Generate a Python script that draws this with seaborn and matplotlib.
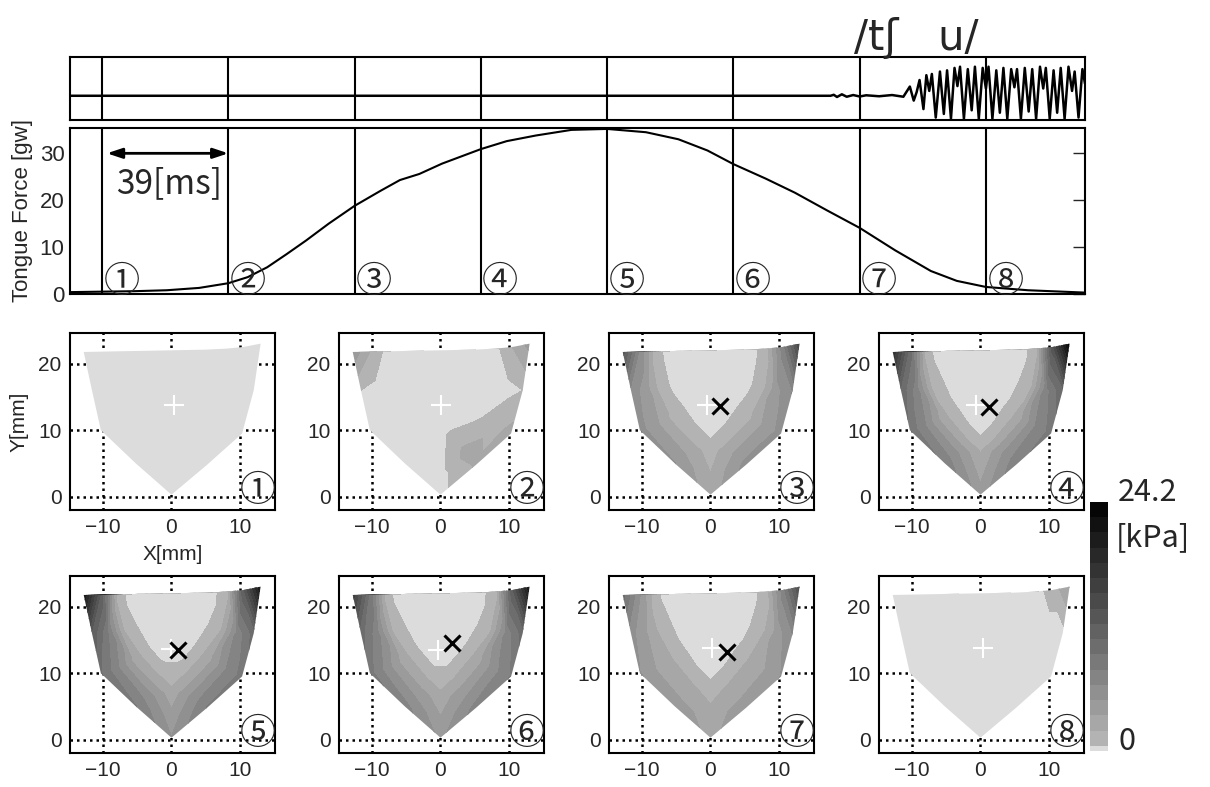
import numpy as np
import matplotlib
matplotlib.use("Agg")
import matplotlib.pyplot as plt
import matplotlib.tri as mtri
from matplotlib.colors import ListedColormap, BoundaryNorm
from matplotlib.patches import Polygon
import matplotlib.cm as cm
import seaborn as sns

sns.set_style("white")
plt.rcParams['font.family'] = ['Liberation Sans', 'Noto Sans CJK JP', 'DejaVu Sans']
CJK = ['Noto Sans CJK JP', 'DejaVu Sans']

# ---------------- data ----------------
line_times = [0, 39, 78, 117, 156, 195, 234, 273]   # ms, frame markers
marks = ['①', '②', '③', '④', '⑤', '⑥', '⑦', '⑧']

force_t = [-9.9, 0, 10, 20, 30, 39, 45, 51, 57, 63, 70, 78, 86, 92, 98, 105, 117,
           125, 134, 145, 156, 168, 178, 187, 195, 205, 214, 224, 234, 245, 256,
           264, 273, 286, 303.6]
force_v = [0.4, 0.5, 0.6, 0.8, 1.3, 2.3, 3.6, 5.7, 8.5, 11.4, 15.0, 18.8, 22.0, 24.3,
           25.6, 27.8, 30.9, 32.6, 33.8, 35.0, 35.2, 34.5, 33.0, 30.6, 27.7, 24.6,
           21.6, 17.8, 14.1, 9.3, 4.9, 2.8, 1.5, 0.8, 0.3]

wave_t = [-9.9, 225, 226, 227, 228.5, 230, 232, 234, 236, 240, 244, 247.5, 249.5,
          250.7, 251.6, 252.5, 253.7, 254.6, 255.5, 256.3, 257.5, 258.8, 260.0,
          261.0, 262.2, 263.3, 264.2, 265.0, 266.2, 267.4, 268.6, 269.6, 270.8,
          272.0, 273.0, 273.8, 275.0, 276.2, 277.3, 278.4, 279.6, 280.8, 281.8,
          282.6, 283.8, 285.0, 286.2, 287.3, 288.5, 289.7, 290.7, 291.5, 292.7,
          293.9, 295.0, 296.1, 297.3, 298.5, 299.6, 300.4, 301.6, 302.8, 303.6]
wave_v = [0, 0, 0.04, -0.05, 0.06, -0.04, 0.03, -0.03, 0.02, -0.02, 0.03, -0.04, 0.38,
          -0.2, 0.15, 0.65, -0.55, 0.85, 0.2, 0.9, -0.9, 1.0, -0.75,
          1.05, -0.95, 1.15, 0.4, 1.2, -0.95, 1.1, -0.6, 1.2, -0.95,
          1.15, 0.3, 1.2, -0.95, 1.05, -0.7, 1.15, -0.95, 1.1, 0.35,
          1.1, -0.95, 1.15, -0.65, 1.1, -0.95, 1.2, 0.3, 1.15, -0.95,
          1.05, -0.7, 1.15, -0.95, 1.2, 0.2, 1.0, -0.9, 1.1, 0.5]

# sensor node positions [mm]: outer edge, three inner rings, centre line
outer_x = [-12.8, -11.6, -10.3, -5.2, 0.0, 5.2, 10.3, 12.0, 13.0]
outer_y = [21.75, 16.0, 10.0, 5.0, 0.3, 4.8, 9.5, 16.0, 23.0]
ring1_x = [-10.3, -9.3, -8.0, -3.8, 0.0, 3.8, 8.0, 9.7, 10.5]
ring1_y = [21.8, 16.0, 10.5, 6.5, 3.5, 6.5, 10.5, 16.0, 22.5]
ring2_x = [-7.8, -7.0, -5.5, -2.2, 0.0, 2.2, 5.5, 7.3, 8.0]
ring2_y = [21.85, 16.5, 12.0, 8.5, 7.0, 8.5, 12.0, 16.5, 22.25]
ring3_x = [-5.0, -4.5, -3.0, -1.0, 0.0, 1.0, 3.0, 4.7, 5.0]
ring3_y = [21.9, 17.5, 14.0, 11.0, 10.0, 11.0, 14.0, 17.5, 22.1]
centre_x = [-2.5, 0.0, 2.5, 0.0, 0.0]
centre_y = [21.95, 22.0, 22.05, 18.5, 14.5]
centre_vals = [0, 0, 0, 0, 0]

# pressure [kPa] at the nodes for each of the 8 frames
outer_vals = [
    [0, 0, 0, 0, 0, 0, 0, 0, 0],
    [4.5, 0.5, 0, 0, 0, 2.2, 2.5, 0.5, 4.0],
    [13, 6, 5.5, 5, 2.5, 5.5, 5.5, 6.5, 15],
    [18, 10.5, 9, 7.5, 4, 7.5, 8.5, 10.5, 23.5],
    [21, 12, 9.5, 8, 5, 8, 8.5, 10, 21],
    [16, 10, 8.5, 7, 4.5, 7, 8, 10, 21],
    [10, 5.5, 5, 4.5, 3, 4.5, 5, 6.5, 14],
    [0, 0, 0, 0, 0, 0, 0, 0, 3.5],
]
ring1_vals = [
    [0, 0, 0, 0, 0, 0, 0, 0, 0],
    [2, 0, 0, 0, 0, 2.6, 1.5, 0, 2],
    [6, 4, 4, 3.5, 2, 3.8, 4, 4.5, 7],
    [10, 7, 6.5, 5.5, 3, 5.5, 6.5, 7.5, 13],
    [12, 8, 7, 6, 4, 6, 6.5, 7, 12],
    [9, 7, 6, 5, 3.5, 5, 6, 7, 12],
    [5, 3.5, 3.5, 3, 2.5, 3, 3.5, 4, 7],
    [0, 0, 0, 0, 0, 0, 0, 0, 1],
]
ring2_vals = [
    [0, 0, 0, 0, 0, 0, 0, 0, 0],
    [0, 0, 0, 0, 0, 1.2, 0.3, 0, 0],
    [0.7, 0.8, 1.5, 1.5, 1.2, 1.5, 1.5, 0.9, 0.8],
    [0.7, 1.5, 2.5, 2.2, 1.8, 2.2, 2.5, 1.5, 0.8],
    [0.8, 2.0, 3.0, 3.0, 2.5, 3.0, 3.0, 2.0, 0.9],
    [0.7, 1.8, 2.8, 2.5, 2.2, 2.5, 2.8, 1.8, 0.9],
    [0.6, 1.2, 2.0, 1.8, 1.5, 1.8, 2.0, 1.2, 0.8],
    [0, 0, 0, 0, 0, 0, 0, 0, 0],
]
ring3_vals = [
    [0, 0, 0, 0, 0, 0, 0, 0, 0],
    [0, 0, 0, 0, 0, 0, 0, 0, 0],
    [0, 0, 0, 0, 0, 0, 0, 0, 0],
    [0, 0, 0, 0, 0, 0, 0, 0, 0],
    [0, 0, 0.3, 0.6, 0.8, 0.6, 0.3, 0, 0],
    [0, 0, 0.2, 0.5, 0.6, 0.5, 0.2, 0, 0],
    [0, 0, 0, 0, 0, 0, 0, 0, 0],
    [0, 0, 0, 0, 0, 0, 0, 0, 0],
]

plus_x = [0.3, 0.1, -0.5, -0.6, 0.0, -0.4, 0.2, 0.4]
plus_y = [13.8, 13.8, 13.8, 13.8, 13.6, 13.5, 13.8, 13.8]
cross_x = [None, None, 1.4, 1.3, 0.95, 1.7, 2.4, None]
cross_y = [None, None, 13.6, 13.5, 13.5, 14.6, 13.2, None]

p_max = 24.2

# ---------------- figure ----------------
W, H = 1210, 787
fig = plt.figure(figsize=(W / 100, H / 100), dpi=100)


def px_axes(l, t, r, b):
    return fig.add_axes([l / W, 1 - b / H, (r - l) / W, (b - t) / H])


def frame(ax):
    for s in ax.spines.values():
        s.set_visible(True)
        s.set_color('black')
        s.set_linewidth(1.5)


xlim = (-9.9, 303.6)

# speech waveform
ax_w = px_axes(70, 57, 1085, 120)
sns.lineplot(x=wave_t, y=wave_v, ax=ax_w, color='black', lw=1.8, estimator=None, sort=False)
for t in line_times:
    ax_w.axvline(t, color='black', lw=1.5)
ax_w.set_xlim(*xlim)
ax_w.set_ylim(-1.0, 1.6)
ax_w.set_xticks([])
ax_w.set_yticks([])
ax_w.set_xlabel('')
ax_w.set_ylabel('')
frame(ax_w)
fig.text(916 / W, 1 - 38 / H, '/t\u0283   u/', fontsize=30, ha='center', va='center',
         family=['DejaVu Sans'])

# tongue force
ax_f = px_axes(70, 128, 1085, 294)
sns.lineplot(x=force_t, y=force_v, ax=ax_f, color='black', lw=1.5, estimator=None, sort=False)
for t, m in zip(line_times, marks):
    ax_f.axvline(t, color='black', lw=1.5)
    ax_f.annotate(m, xy=(t, 2.6), xytext=(1, 0), textcoords='offset points',
                  ha='left', va='center', fontsize=26, family=CJK)
ax_f.set_xlim(*xlim)
ax_f.set_ylim(0, 35.4)
ax_f.set_xticks([])
ax_f.set_yticks([0, 10, 20, 30])
ax_f.tick_params(axis='y', which='both', left=False, right=True, direction='in',
                 length=9, width=1, labelsize=16, pad=4)
ax_f.set_xlabel('')
ax_f.set_ylabel('Tongue Force [gw]', fontsize=16)
ax_f.yaxis.set_label_coords(-0.036, 0.5)
frame(ax_f)
ax_f.annotate('', xy=(1.5, 30), xytext=(39, 30),
              arrowprops=dict(arrowstyle='<|-|>,head_length=0.9,head_width=0.3',
                              color='black', lw=2, shrinkA=0, shrinkB=0))
ax_f.text(20.7, 23.5, '39[ms]', fontsize=24, ha='center', va='center', family=CJK)

# pressure maps
levels = [0, 0.5] + [0.5 + k * (p_max - 0.5) / 16 for k in range(1, 17)]
greys = ['#dcdcdc'] + [str(round(0.70 - k * 0.68 / 15, 3)) for k in range(16)]
cmap = ListedColormap(greys)
norm = BoundaryNorm(levels, cmap.N)

node_x = outer_x + ring1_x + ring2_x + ring3_x + centre_x
node_y = outer_y + ring1_y + ring2_y + ring3_y + centre_y
tri = mtri.Triangulation(node_x, node_y)

outline = list(zip(outer_x, outer_y)) + \
    [(ring1_x[8], ring1_y[8]), (ring2_x[8], ring2_y[8]), (ring3_x[8], ring3_y[8]),
     (centre_x[2], centre_y[2]), (centre_x[1], centre_y[1]), (centre_x[0], centre_y[0]),
     (ring3_x[0], ring3_y[0]), (ring2_x[0], ring2_y[0]), (ring1_x[0], ring1_y[0])]

col_left = [70, 339, 609, 879]
row_top = [333, 576]
for i in range(8):
    r, c = divmod(i, 4)
    l, t = col_left[c], row_top[r]
    ax = px_axes(l, t, l + 205, t + 177)
    z = outer_vals[i] + ring1_vals[i] + ring2_vals[i] + ring3_vals[i] + centre_vals
    cs = ax.tricontourf(tri, z, levels=levels, cmap=cmap, norm=norm, zorder=2)
    poly = Polygon(outline, closed=True, transform=ax.transData)
    cs.set_clip_path(poly)
    ax.plot(plus_x[i], plus_y[i], marker='+', color='white', ms=14, mew=1.5, zorder=4)
    if cross_x[i] is not None:
        ax.plot(cross_x[i], cross_y[i], marker='x', color='black', ms=11, mew=2.2, zorder=5)
    ax.set_xlim(-14.8, 15.1)
    ax.set_ylim(-2.0, 24.6)
    ax.set_xticks([-10, 0, 10])
    ax.set_yticks([0, 10, 20])
    ax.grid(True, color='black', linestyle=(0, (1, 1.6)), linewidth=1.8, zorder=1)
    ax.set_axisbelow(True)
    ax.tick_params(direction='in', length=0, labelsize=15, pad=6)
    frame(ax)
    ax.text(0.915, 0.105, marks[i], transform=ax.transAxes, ha='center', va='center',
            fontsize=26, family=CJK, zorder=6)
    if i == 0:
        ax.set_xlabel('X[mm]', fontsize=15)
        ax.set_ylabel('Y[mm]', fontsize=15)
        ax.xaxis.set_label_coords(0.5, -0.2)
        ax.yaxis.set_label_coords(-0.2, 0.5)

# colour bar
cax = px_axes(1090, 502, 1108, 751)
sm = cm.ScalarMappable(norm=norm, cmap=cmap)
cb = fig.colorbar(sm, cax=cax, spacing='proportional')
cb.set_ticks([])
cb.minorticks_off()
cb.ax.tick_params(which='both', length=0)
cb.outline.set_visible(False)
fig.text(1118 / W, 1 - 493 / H, '24.2', fontsize=22, ha='left', va='center', family=CJK)
fig.text(1116 / W, 1 - 538 / H, '[kPa]', fontsize=22, ha='left', va='center', family=CJK)
fig.text(1118 / W, 1 - 742 / H, '0', fontsize=22, ha='left', va='center', family=CJK)

fig.savefig('out.png', dpi=100)
